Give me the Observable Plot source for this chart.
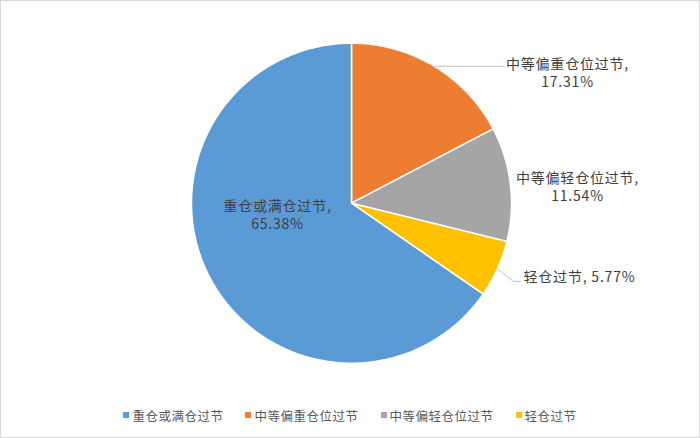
<!DOCTYPE html>
<html>
<head>
<meta charset="utf-8">
<script src="https://cdn.jsdelivr.net/npm/d3@7"></script>
<script src="https://cdn.jsdelivr.net/npm/@observablehq/plot@0.6"></script>
<style>
  html, body { margin: 0; padding: 0; background: #fff; }
  #wrap { position: relative; width: 700px; height: 438px; box-shadow: inset 0 0 0 1px #d9d9d9; overflow: hidden;
          font-family: "Noto Sans CJK SC", "Noto Sans", sans-serif; }
  #chart { position: absolute; left: 0; top: 0; }
  #chart text { letter-spacing: 0.8px; }
  #legend { position: absolute; left: 0; top: 404px; width: 700px; height: 22px; display: flex; justify-content: center;
            align-items: center; gap: 22px; font-size: 12.5px; color: #595959; letter-spacing: 0.5px; }
  .item { display: flex; align-items: center; gap: 3px; }
  .sw { width: 6px; height: 6px; display: inline-block; }
</style>
</head>
<body>
<div id="wrap">
  <div id="chart"></div>
  <div id="legend"></div>
</div>
<script>
// ---- data ----
const categories = ["重仓或满仓过节", "中等偏重仓位过节", "中等偏轻仓位过节", "轻仓过节"];
const shares = [65.38, 17.31, 11.54, 5.77];
const colors = ["#5B9BD5", "#ED7D31", "#A5A5A5", "#FFC000"];
// clockwise order from 12 o'clock as drawn
const drawOrder = ["中等偏重仓位过节", "中等偏轻仓位过节", "轻仓过节", "重仓或满仓过节"];

// ---- layout ----
const W = 700, H = 400, cx = 351, cy = 202.7, R = 160;
// label placement (unit-circle coordinates) – layout only
const labelLayout = {
  "中等偏重仓位过节": {x: 1.35, y: 0.82, anchor: "middle", leaderEnd: 0.95},
  "中等偏轻仓位过节": {x: 1.4125, y: 0.104, anchor: "middle"},
  "轻仓过节": {x: 1.075, y: -0.464, anchor: "start", elbow: [1.0125, -0.489], leaderEnd: 1.056},
  "重仓或满仓过节": {x: -0.4625, y: -0.071, anchor: "middle"}
};

const total = d3.sum(shares);
const share = new Map(categories.map((c, i) => [c, shares[i]]));

// build slice polygons from the values
const slicePts = [];
const slices = [];
let acc = 0;
for (const name of drawOrder) {
  const v = share.get(name);
  const a0 = acc / total * 2 * Math.PI;
  acc += v;
  const a1 = acc / total * 2 * Math.PI;
  slices.push({name, v, a0, a1, mid: (a0 + a1) / 2});
  slicePts.push({name, x: 0, y: 0});
  const n = Math.max(2, Math.ceil((a1 - a0) / (Math.PI / 180)));
  for (let k = 0; k <= n; k++) {
    const a = a0 + (a1 - a0) * k / n;
    slicePts.push({name, x: Math.sin(a), y: Math.cos(a)});
  }
}

// labels
const labels = slices.map(s => {
  const L = labelLayout[s.name];
  const pct = s.v.toFixed(2) + "%";
  const text = L.anchor === "start" ? `${s.name}, ${pct}` : `${s.name},\n${pct}`;
  return {name: s.name, x: L.x, y: L.y, anchor: L.anchor, text};
});

// leader lines
const leaders = [];
for (const s of slices) {
  const L = labelLayout[s.name];
  if (L.leaderEnd === undefined) continue;
  const p0 = {x: Math.sin(s.mid), y: Math.cos(s.mid)};
  leaders.push({name: s.name, ...p0});
  if (L.elbow) {
    leaders.push({name: s.name, x: L.elbow[0], y: L.elbow[1]});
    leaders.push({name: s.name, x: L.leaderEnd, y: L.elbow[1]});
  } else {
    leaders.push({name: s.name, x: L.leaderEnd, y: p0.y});
  }
}

const chart = Plot.plot({
  width: W,
  height: H,
  margin: 0,
  x: {domain: [-1, 1], range: [cx - R, cx + R], axis: null},
  y: {domain: [-1, 1], range: [cy + R, cy - R], axis: null},
  color: {domain: categories, range: colors},
  style: {background: "transparent", fontFamily: "\"Noto Sans CJK SC\", \"Noto Sans\", sans-serif"},
  marks: [
    Plot.line(slicePts, {x: "x", y: "y", z: "name", fill: "name", stroke: "white", strokeWidth: 1.5, curve: "linear-closed"}),
    Plot.line(leaders, {x: "x", y: "y", z: "name", stroke: "#bfbfbf", strokeWidth: 1}),
    Plot.text(labels.filter(d => d.anchor === "middle"), {x: "x", y: "y", text: "text", textAnchor: "middle", lineHeight: 1.3, fontSize: 14, fill: "#404040"}),
    Plot.text(labels.filter(d => d.anchor === "start"), {x: "x", y: "y", text: "text", textAnchor: "start", fontSize: 14, fill: "#404040"})
  ]
});
document.getElementById("chart").appendChild(chart);

// legend
const legend = d3.select("#legend");
categories.forEach((c, i) => {
  const it = legend.append("div").attr("class", "item");
  it.append("span").attr("class", "sw").style("background", colors[i]);
  it.append("span").text(c);
});
</script>
</body>
</html>
